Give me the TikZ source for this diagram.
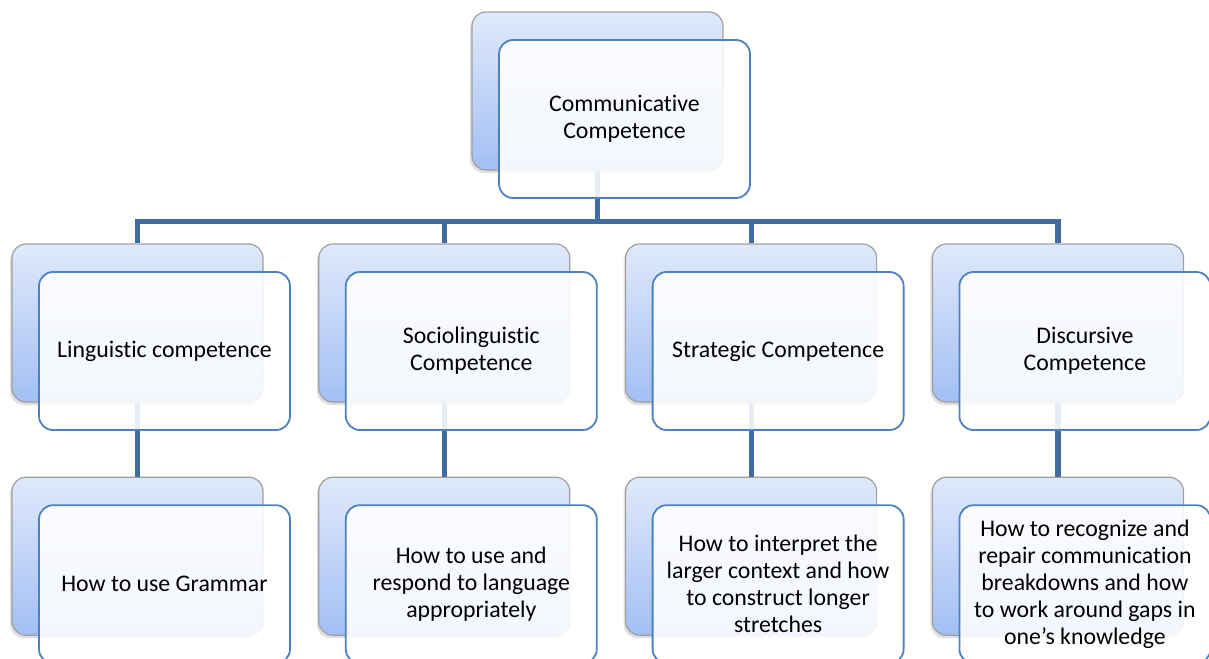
\documentclass[tikz,border=0pt]{standalone}
\usepackage{fontspec}
\setmainfont{Carlito}[Ligatures=NoCommon]
\usetikzlibrary{positioning, shadows}

\definecolor{linkblue}{HTML}{3F6B9F}
\definecolor{edgeblue}{HTML}{4F81BD}
\definecolor{backtop}{HTML}{E0E9FB}
\definecolor{backbot}{HTML}{A2BFF4}

\begin{document}
\begin{tikzpicture}[
    node distance=37pt and 27.3pt,
    back/.style={draw=gray!75, line width=0.6pt, rounded corners=7pt, minimum width=125.5pt, minimum height=79pt,
        top color=backtop, bottom color=backbot,
        drop shadow={shadow xshift=-1pt, shadow yshift=-1.5pt, opacity=0.25}},
    front/.style={draw=edgeblue, line width=0.9pt, rounded corners=7pt, minimum width=125.5pt, minimum height=79pt,
        fill=white, fill opacity=0.88, text opacity=1, align=center, font=\fontsize{11.9}{13.5}\selectfont},
    link/.style={draw=linkblue, line width=2.6pt}
]
    \useasboundingbox (0,0) rectangle (604.5pt,-329pt);

    % back boxes
    \node[back] (comm back) at (298.75pt,-45.5pt) {};
    \node[back] (ling back) at (68.75pt,-161.5pt) {};
    \node[back, right=of ling back] (socio back) {};
    \node[back, right=of socio back] (strat back) {};
    \node[back, right=of strat back] (disc back) {};
    \node[back, below=of ling back] (grammar back) {};
    \node[back, below=of socio back] (respond back) {};
    \node[back, below=of strat back] (interpret back) {};
    \node[back, below=of disc back] (repair back) {};

    % connectors
    \foreach \child in {ling, socio, strat, disc} {
        \draw[link] (comm back.south) |- ([yshift=11pt]\child\space back.north) -- (\child\space back.north);
    }
    \draw[link] (ling back.south) -- (grammar back.north);
    \draw[link] (socio back.south) -- (respond back.north);
    \draw[link] (strat back.south) -- (interpret back.north);
    \draw[link] (disc back.south) -- (repair back.north);

    % front boxes
    \node[front] (comm) at ([shift={(13.5pt,-14pt)}]comm back.center) {Communicative\\Competence};
    \node[front] (ling) at ([shift={(13.5pt,-14pt)}]ling back.center) {Linguistic competence};
    \node[front] (socio) at ([shift={(13.5pt,-14pt)}]socio back.center) {Sociolinguistic\\Competence};
    \node[front] (strat) at ([shift={(13.5pt,-14pt)}]strat back.center) {Strategic Competence};
    \node[front] (disc) at ([shift={(13.5pt,-14pt)}]disc back.center) {Discursive\\Competence};
    \node[front] (grammar) at ([shift={(13.5pt,-14pt)}]grammar back.center) {How to use Grammar};
    \node[front] (respond) at ([shift={(13.5pt,-14pt)}]respond back.center) {How to use and\\respond to language\\appropriately};
    \node[front] (interpret) at ([shift={(13.5pt,-14pt)}]interpret back.center) {How to interpret the\\larger context and how\\to construct longer\\stretches};
    \node[front] (repair) at ([shift={(13.5pt,-14pt)}]repair back.center) {How to recognize and\\repair communication\\breakdowns and how\\to work around gaps in\\one’s knowledge};
\end{tikzpicture}
\end{document}
